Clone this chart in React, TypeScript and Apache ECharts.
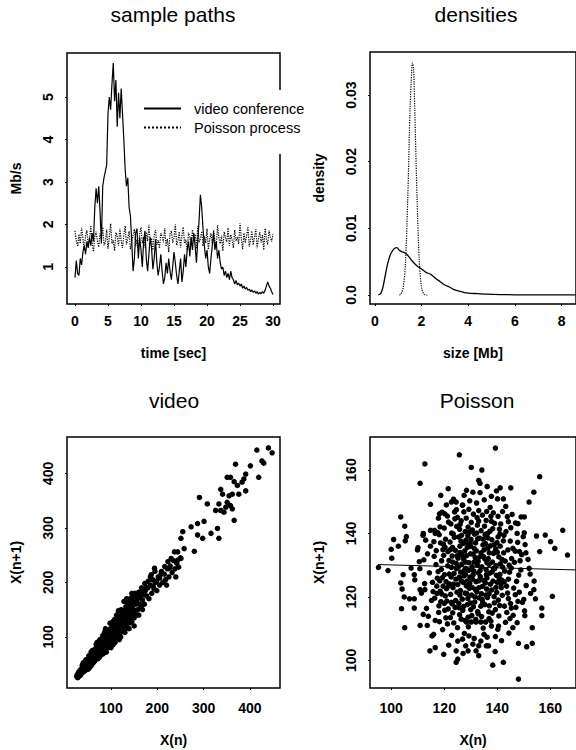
import React, { useEffect, useRef } from "react";
import * as echarts from "echarts";

// ---------- panel 1: sample paths (Mb/s sampled every 0.2 s, 0..30 s) ----------
const SAMPLE_STEP = 0.2;
const videoPath = [
  0.75, 1.15, 0.85, 0.8, 1.2, 1.05, 1.35, 1.5, 1.3, 1.6,
  1.45, 1.7, 1.5, 1.8, 1.6, 2.4, 2.85, 2.5, 2.9, 2.3,
  1.55, 2.9, 3.1, 3.25, 3.4, 4.6, 5.0, 4.7, 5.3, 5.8,
  4.9, 5.4, 4.3, 5.1, 4.5, 5.2, 4.6, 4.0, 3.3, 2.9,
  3.1, 2.4, 2.2, 1.6, 0.9, 1.2, 1.8, 1.9, 1.2, 1.7,
  1.4, 1.0, 1.6, 1.85, 1.2, 0.9, 1.3, 1.7, 1.45, 0.95,
  1.2, 1.65, 1.1, 0.8, 1.0, 1.3, 0.9, 0.6, 0.75, 1.1,
  0.85, 1.2, 0.9, 0.7, 1.0, 1.35, 1.1, 0.8, 0.6, 0.9,
  1.2, 0.65, 0.9, 1.3, 1.0, 1.4, 1.6, 1.25, 1.7, 1.4,
  1.8, 1.5, 1.1, 1.6, 2.1, 2.7, 2.4, 1.9, 1.5, 1.2,
  1.4, 1.0, 0.85, 1.2, 1.5, 1.8, 1.4, 1.6, 1.2, 1.4,
  1.1, 0.95, 1.0, 0.8, 0.9, 0.75, 0.85, 0.7, 0.9, 0.75,
  0.7, 0.6, 0.68, 0.58, 0.62, 0.55, 0.6, 0.5, 0.55, 0.48,
  0.52, 0.45, 0.48, 0.42, 0.46, 0.4, 0.44, 0.38, 0.42, 0.36,
  0.4, 0.37, 0.42, 0.38, 0.45, 0.55, 0.65, 0.55, 0.5, 0.42,
  0.35,
];
const poissonPath = [
  1.85, 1.62, 1.48, 1.77, 1.55, 1.92, 1.68, 1.41, 1.73, 1.86,
  1.52, 1.64, 1.98, 1.57, 1.36, 1.71, 1.83, 1.6, 1.47, 1.79,
  1.66, 1.94, 1.51, 1.58, 1.88, 1.43, 1.69, 2.02, 1.55, 1.63,
  1.38, 1.81, 1.72, 1.5, 1.9, 1.61, 1.45, 1.76, 1.97, 1.53,
  1.67, 1.84, 1.42, 1.59, 1.74, 1.89, 1.49, 1.65, 1.37, 1.78,
  1.93, 1.56, 1.7, 1.46, 1.82, 1.61, 1.99, 1.54, 1.68, 1.4,
  1.75, 1.87, 1.52, 1.63, 1.44, 1.8, 1.71, 1.58, 1.91, 1.48,
  1.66, 1.35, 1.78, 1.85, 1.57, 1.69, 2.0, 1.51, 1.62, 1.83,
  1.46, 1.73, 1.94, 1.55, 1.64, 1.39, 1.81, 1.7, 1.5, 1.88,
  1.6, 1.77, 1.43, 1.96, 1.58, 1.67, 1.84, 1.49, 1.72, 1.56,
  1.9, 1.41, 1.65, 1.79, 1.53, 1.86, 1.62, 1.47, 1.98, 1.68,
  1.55, 1.74, 1.38, 1.83, 1.69, 1.59, 1.92, 1.5, 1.76, 1.64,
  1.45, 1.87, 1.61, 1.71, 1.54, 2.03, 1.66, 1.42, 1.8, 1.57,
  1.73, 1.95, 1.48, 1.63, 1.85, 1.52, 1.7, 1.89, 1.44, 1.67,
  1.82, 1.58, 1.75, 1.4, 1.91, 1.65, 1.53, 1.86, 1.69, 1.6,
  1.78,
];
const timeTicks = [0, 5, 10, 15, 20, 25, 30];
const rateTicks = [1, 2, 3, 4, 5];

// ---------- panel 2: densities ----------
const videoDensity = [
  [0.15, 0], [0.25, 0.0002], [0.35, 0.0012], [0.45, 0.003], [0.55, 0.0047],
  [0.65, 0.0059], [0.75, 0.0066], [0.85, 0.007], [0.95, 0.0071], [1.05, 0.0067],
  [1.15, 0.0065], [1.3, 0.0063], [1.45, 0.0058], [1.6, 0.0051], [1.8, 0.0044],
  [2.0, 0.0039], [2.2, 0.0034], [2.4, 0.0031], [2.6, 0.0025], [2.8, 0.002],
  [3.0, 0.0015], [3.2, 0.0012], [3.4, 0.0008], [3.6, 0.0006], [3.8, 0.0004],
  [4.0, 0.00028], [4.4, 0.0002], [4.8, 0.00012], [5.4, 0.00006], [6.0, 0.00003],
  [7.0, 0.00002], [8.0, 0.00001], [8.7, 0.00001],
];
const poissonDensity = [
  [1.05, 0], [1.11, 0.0001], [1.21, 0.001], [1.31, 0.0047], [1.41, 0.0144],
  [1.51, 0.028], [1.56, 0.032], [1.61, 0.0348], [1.66, 0.034], [1.71, 0.028],
  [1.81, 0.0144], [1.91, 0.0047], [2.01, 0.001], [2.11, 0.0001], [2.25, 0],
];
const sizeTicks = [0, 2, 4, 6, 8];
const densityTicks = [0, 0.01, 0.02, 0.03];

// ---------- panel 3: video lag plot X(n), X(n+1) ----------
const videoLag = [
  [415, 443], [440, 447], [448, 438], [426, 423], [430, 419], [369, 417], [401, 414],
  [419, 393], [391, 399], [387, 390], [383, 384], [373, 378], [366, 385], [358, 393],
  [351, 393], [391, 368], [376, 362], [362, 362], [355, 359], [337, 371], [341, 362],
  [351, 347], [358, 341], [362, 335], [348, 338], [344, 329], [337, 332], [326, 332],
  [333, 344], [366, 314], [308, 344], [291, 356], [301, 312], [287, 308], [273, 302],
  [330, 299], [333, 281], [316, 290], [298, 281], [287, 287], [280, 257], [255, 293],
  [251, 281], [258, 262], [244, 256], [237, 256], [251, 244], [244, 241], [230, 244],
  [223, 238], [226, 226], [216, 229], [209, 220], [194, 226], [205, 208], [198, 202],
  [191, 193], [187, 214], [180, 202], [176, 190], [173, 184], [166, 181], [162, 175],
  [155, 168], [151, 178],
  [26, 27], [28, 25], [27, 30], [30, 28], [31, 33], [29, 31], [33, 30], [32, 36], [35, 33],
  [34, 29], [36, 38], [30, 35], [38, 34], [35, 40],
  [37, 42], [40, 38], [39, 45], [42, 40], [41, 48], [44, 43], [43, 37], [46, 50], [45, 45],
  [48, 42], [47, 52], [50, 47], [49, 55], [40, 52], [44, 54], [50, 40], [38, 48],
  [52, 50], [53, 58], [55, 52], [54, 62], [57, 55], [56, 48], [58, 64], [60, 57], [59, 68],
  [62, 60], [61, 52], [63, 70], [64, 63], [65, 56], [52, 65], [57, 72], [60, 75], [65, 72],
  [55, 45], [63, 54],
  [66, 68], [67, 78], [68, 62], [70, 72], [69, 82], [71, 66], [72, 80], [73, 70], [74, 88],
  [75, 74], [76, 64], [77, 84], [78, 76], [79, 92], [80, 70], [68, 86], [72, 60], [76, 95],
  [80, 85], [70, 90], [78, 68],
  [81, 80], [82, 95], [83, 74], [84, 88], [85, 100], [86, 82], [87, 94], [88, 76], [89, 105],
  [90, 86], [91, 98], [92, 80], [93, 110], [94, 92], [95, 84], [82, 102], [86, 108], [90, 72],
  [94, 102], [88, 115], [84, 70],
  [96, 96], [97, 108], [98, 88], [99, 115], [100, 100], [101, 92], [102, 118], [103, 104],
  [104, 85], [105, 112], [106, 96], [107, 122], [108, 106], [109, 90], [110, 115], [98, 125],
  [104, 128], [100, 80], [108, 132], [96, 110], [106, 88],
  [111, 108], [112, 125], [113, 98], [114, 118], [115, 130], [116, 105], [117, 122], [118, 138],
  [119, 112], [120, 128], [121, 100], [122, 135], [123, 118], [124, 145], [125, 110], [112, 140],
  [118, 95], [122, 150], [116, 148], [125, 128],
  [126, 135], [127, 120], [128, 148], [129, 112], [130, 140], [131, 128], [132, 155], [133, 118],
  [134, 145], [135, 132], [136, 160], [137, 125], [138, 150], [139, 115], [140, 140], [128, 165],
  [134, 170], [140, 128], [130, 108], [138, 162],
  [141, 152], [142, 135], [143, 165], [144, 145], [145, 128], [146, 160], [147, 140], [148, 175],
  [149, 150], [150, 135], [151, 165], [152, 180], [153, 148], [154, 160], [155, 140], [145, 180],
  [150, 120], [144, 172],
  [157, 170], [158, 150], [160, 182], [162, 160], [163, 172], [165, 155], [166, 190], [168, 168],
  [170, 178], [172, 160], [174, 185], [160, 140], [168, 150], [173, 198],
  [177, 175], [180, 190], [182, 170], [185, 195], [188, 180], [190, 205], [193, 188], [196, 200],
  [199, 185], [202, 210], [205, 195], [208, 215], [185, 210], [195, 220],
  [212, 200], [215, 215], [218, 205], [222, 225], [225, 210], [228, 230], [232, 218], [235, 240],
  [238, 225], [242, 235], [246, 228], [250, 245], [220, 195], [240, 210],
  [33, 38], [36, 34], [39, 41], [42, 46], [45, 40], [48, 50], [51, 45], [54, 56], [57, 50],
  [60, 62], [63, 58], [66, 64], [69, 74], [72, 68], [75, 80], [78, 72], [81, 86], [84, 78],
  [87, 90], [90, 95], [93, 88], [96, 102], [99, 94], [102, 108], [105, 100], [108, 114],
  [111, 104], [114, 124], [117, 112], [120, 118], [123, 130], [126, 124], [129, 135], [132, 130],
  [135, 142], [138, 138], [141, 145], [144, 155], [147, 150], [150, 160], [153, 170], [156, 162],
  [159, 175], [46, 58], [52, 42], [58, 48], [64, 76], [70, 60], [76, 86], [82, 68], [88, 100],
  [94, 80], [100, 112], [106, 92], [112, 118], [118, 106], [124, 136], [130, 118], [136, 148],
  [142, 126], [29, 26], [31, 29], [34, 33], [37, 36], [40, 43], [43, 48], [74, 62], [86, 95],
  [98, 104], [110, 96], [122, 112], [134, 124],
];
const videoTicks = [100, 200, 300, 400];

// ---------- panel 4: Poisson lag plot ----------
const poissonLag = [
  [125.7, 164.8], [112.7, 161.9], [110.9, 155.8], [121.5, 154.1], [118.7, 152.0], [114.8, 149.2],
  [127.5, 152.0], [103.6, 145.2], [105.1, 142.3], [100.9, 138.1], [102.7, 136.0], [100.0, 135.0],
  [100.2, 132.2], [95.2, 129.3], [98.8, 128.3], [105.7, 139.0], [105.3, 137.7], [104.5, 127.0],
  [103.6, 124.4], [104.1, 122.5], [104.9, 120.0], [106.9, 119.4], [108.7, 119.4], [103.9, 116.3],
  [108.7, 116.5], [105.1, 110.3], [110.9, 111.0], [113.6, 111.0], [112.1, 114.5], [112.7, 122.3],
  [110.9, 122.3], [108.7, 127.0], [107.5, 129.1], [110.6, 131.1], [109.9, 134.8], [112.1, 140.0],
  [113.0, 137.9], [114.8, 141.0], [116.6, 140.0], [118.2, 146.2], [120.2, 146.2], [122.7, 149.9],
  [124.5, 149.9], [126.9, 148.9], [115.4, 107.7], [116.0, 108.2], [116.6, 104.0], [114.6, 103.0],
  [125.1, 106.1], [126.9, 106.7], [128.1, 104.6], [124.5, 103.0], [125.1, 100.4], [124.5, 99.4],
  [139.3, 166.9], [130.2, 160.8], [134.2, 160.0], [133.0, 156.7], [133.5, 155.8], [136.2, 154.8],
  [156.0, 157.9], [153.8, 153.0], [152.0, 149.9], [141.1, 154.4], [145.1, 154.4], [142.3, 150.9],
  [137.8, 151.7], [130.8, 153.0], [164.7, 141.0], [166.5, 133.2], [158.1, 139.5], [154.8, 139.2],
  [160.1, 137.4], [161.7, 135.3], [156.0, 134.3], [149.0, 145.2], [150.2, 145.2], [147.8, 143.1],
  [150.2, 140.2], [147.5, 140.0], [150.8, 133.9], [148.4, 134.3], [145.9, 135.3], [152.0, 129.0],
  [160.8, 120.2], [153.8, 122.3], [154.4, 119.4], [156.8, 116.5], [156.8, 114.1], [150.0, 119.2],
  [150.4, 114.1], [147.8, 118.6], [153.2, 110.3], [148.0, 105.4], [151.1, 104.3], [153.2, 105.4],
  [145.9, 110.3], [145.3, 116.5], [142.3, 99.4], [138.3, 98.5], [148.0, 94.1], [140.5, 110.8],
  [139.3, 107.5], [137.8, 110.8], [135.6, 112.1], [133.8, 112.1], [132.0, 112.1], [130.2, 112.1],
  [128.4, 112.1], [135.0, 108.2], [133.8, 106.1], [133.0, 104.6], [132.0, 103.0], [135.9, 104.6],
  [129.3, 107.7], [130.8, 105.1], [129.0, 103.0],
  [120.5, 138.2], [123.1, 135.6], [125.8, 141.3], [128.2, 137.9], [131.4, 139.8], [134.6, 136.4],
  [137.2, 140.7], [139.9, 137.1], [142.5, 139.4], [126.7, 133.2], [129.3, 130.8], [132.1, 134.5],
  [135.4, 131.9], [138.6, 133.7], [141.2, 130.4], [144.0, 134.8], [121.8, 131.5], [118.9, 128.7],
  [122.6, 126.3], [125.3, 129.4], [128.0, 127.1], [130.7, 125.6], [133.5, 128.3], [136.1, 126.0],
  [139.0, 128.9], [141.7, 125.3], [144.6, 127.8], [147.3, 124.9], [119.6, 123.4], [122.4, 120.8],
  [125.1, 123.9], [127.9, 121.2], [130.5, 123.0], [133.2, 119.7], [136.0, 122.5], [138.8, 120.1],
  [141.5, 122.9], [144.2, 119.5], [117.4, 125.9], [115.8, 121.7], [118.7, 118.5], [121.5, 116.2],
  [124.3, 118.9], [127.0, 115.8], [129.8, 118.1], [132.6, 115.4], [135.3, 117.6], [138.1, 114.9],
  [140.9, 117.3], [143.6, 115.1],
  [124.0, 144.6], [127.4, 146.8], [130.2, 143.5], [133.0, 147.2], [135.8, 144.1], [138.5, 146.5],
  [141.3, 143.0], [121.2, 145.5], [118.4, 142.1], [116.1, 137.4], [119.5, 134.9], [113.7, 133.6],
  [116.9, 130.2], [114.4, 127.6], [112.6, 124.2], [115.2, 118.9], [117.9, 115.1], [120.6, 113.4],
  [123.6, 111.8], [126.4, 113.0], [129.1, 110.6], [131.9, 112.9], [134.7, 110.2], [137.6, 112.4],
  [140.2, 109.8], [143.1, 112.0], [146.0, 114.2], [146.8, 120.7], [149.5, 118.3], [148.1, 126.9],
  [150.9, 123.6], [146.5, 130.9], [149.2, 133.3], [147.7, 137.2], [145.1, 141.8], [143.8, 145.3],
  [148.9, 128.5], [152.4, 127.2], [151.6, 131.8],
  [127.3, 131.9], [129.9, 133.6], [132.8, 131.2], [134.2, 129.5], [136.9, 130.3], [131.1, 128.2],
  [128.6, 125.0], [126.2, 127.8], [124.5, 130.6], [123.0, 132.9], [125.9, 136.0], [128.9, 139.3],
  [131.8, 137.0], [133.9, 140.9], [136.5, 138.6], [139.4, 135.1], [140.6, 132.6], [142.8, 128.1],
  [143.5, 123.4], [140.0, 124.6], [137.4, 124.0], [134.9, 125.2], [132.3, 121.6], [129.4, 122.7],
  [126.8, 119.3], [124.8, 121.5], [122.0, 124.1], [120.1, 127.0], [119.0, 131.4], [121.4, 134.3],
  [123.8, 138.8], [126.0, 142.9], [129.0, 142.0], [132.5, 142.6], [135.2, 142.3], [137.8, 143.8],
  [140.8, 141.4], [142.3, 137.7], [144.9, 137.6], [137.0, 133.9], [135.0, 134.8], [130.0, 135.9],
  [127.7, 134.5], [128.1, 129.0], [130.9, 127.0], [133.6, 126.4], [135.8, 128.6], [138.2, 131.0],
  [139.7, 126.8], [141.9, 120.5], [138.9, 118.1], [136.3, 119.8], [133.8, 117.1], [131.0, 116.9],
  [128.7, 117.6], [125.6, 116.6], [123.2, 115.0], [121.0, 118.7], [119.1, 120.9], [117.2, 123.4],
  [114.8, 136.0], [112.0, 139.4], [117.8, 144.8], [120.8, 149.0], [123.5, 150.8], [126.9, 148.9],
  [129.6, 150.3], [132.2, 149.6], [135.1, 150.6], [137.3, 148.2], [140.1, 150.9], [143.2, 148.5],
  [145.6, 146.0], [139.7, 153.4], [133.5, 152.9], [128.4, 153.6], [124.6, 147.5], [116.3, 141.0],
  [110.8, 128.9], [108.9, 125.4], [111.4, 121.2], [113.3, 116.4], [116.6, 112.6], [119.4, 109.7],
  [122.8, 107.9], [127.6, 108.5], [131.3, 106.9], [136.2, 107.3], [141.6, 106.2], [144.4, 108.6],
  [147.5, 111.9], [150.3, 115.6], [152.6, 121.1], [153.9, 125.0], [150.5, 136.5], [146.9, 143.3],
  [142.0, 146.9], [118.2, 112.2], [114.0, 113.9], [112.3, 131.7], [110.1, 135.5], [136.7, 104.6],
  [139.2, 102.8], [133.0, 101.5], [127.1, 102.2], [121.7, 104.8], [119.8, 101.9],
  [121.3, 129.8], [123.7, 127.4], [126.4, 125.1], [129.6, 124.3], [132.0, 124.8], [134.4, 123.3],
  [137.9, 122.2], [140.4, 119.0], [142.7, 117.1], [139.3, 116.0], [136.8, 115.3], [134.1, 113.8],
  [130.4, 114.1], [127.8, 112.6], [125.0, 110.3], [122.3, 113.5], [120.2, 115.8], [118.0, 117.2],
  [116.4, 119.6], [118.3, 125.1], [120.9, 122.6], [123.3, 122.9], [126.1, 122.0], [128.3, 123.5],
  [131.6, 120.0], [134.0, 121.0], [137.2, 127.5], [139.6, 129.9], [141.0, 127.1], [143.0, 131.3],
  [145.4, 132.1], [144.2, 125.6], [146.2, 122.8], [148.3, 121.5], [145.0, 117.9], [138.0, 138.0],
  [135.6, 136.8], [133.3, 138.5], [130.6, 141.1], [127.9, 140.6], [125.4, 138.9], [122.8, 140.1],
  [120.0, 141.7], [118.1, 139.6], [117.0, 134.6], [119.7, 136.6], [122.2, 137.3], [124.2, 134.7],
  [126.6, 130.3], [129.2, 128.4], [132.5, 130.0], [134.8, 132.7], [136.4, 135.4], [138.8, 136.4],
  [141.1, 136.0], [142.4, 133.9], [140.3, 138.9], [137.6, 145.4], [134.4, 145.8], [131.0, 146.1],
  [128.3, 144.8], [125.0, 145.1], [122.5, 143.0], [119.2, 146.7], [136.3, 140.0], [133.0, 143.9],
  [130.1, 138.1], [127.2, 136.9], [124.9, 133.0], [122.7, 129.3], [120.7, 124.8], [124.4, 125.6],
  [127.5, 126.6], [130.3, 120.6], [133.1, 122.9], [135.7, 120.6], [138.4, 125.0], [141.4, 123.9],
  [143.9, 121.2], [131.7, 132.4], [129.0, 136.5],
  [121.9, 127.2], [124.6, 128.9], [127.1, 124.6], [129.7, 126.2], [132.9, 127.6], [135.5, 124.4],
  [138.1, 127.9], [140.7, 126.0], [119.8, 133.1], [122.3, 134.9], [125.2, 132.2], [128.4, 133.0],
  [131.2, 131.0], [133.9, 133.9], [136.6, 132.1], [139.1, 134.2], [141.8, 131.8], [123.4, 139.9],
  [126.3, 137.6], [129.5, 140.4], [132.6, 138.3], [135.4, 139.7], [138.3, 141.5], [141.0, 139.9],
  [120.4, 120.3], [123.0, 117.8], [125.9, 120.6], [128.9, 119.5], [131.5, 118.4], [134.3, 119.2],
  [137.0, 117.2], [139.8, 121.4], [142.6, 124.8], [145.3, 129.1], [143.3, 140.6], [139.0, 143.2],
  [136.0, 146.9], [132.4, 145.0], [129.3, 147.6], [126.4, 144.0], [123.9, 146.8], [121.6, 143.6],
  [118.6, 137.0], [116.2, 132.8], [117.7, 128.0], [115.6, 124.6], [118.5, 121.8], [121.2, 111.5],
  [125.8, 114.4], [129.0, 113.6], [132.8, 114.7], [136.9, 113.2], [140.6, 114.0], [144.8, 113.2],
  [147.0, 116.7], [148.6, 131.4], [146.8, 134.4], [149.8, 139.0], [144.2, 143.7], [140.3, 145.4],
  [130.9, 133.5], [128.0, 131.0], [125.7, 126.2], [123.5, 124.0], [127.6, 128.4], [130.5, 129.5],
  [133.0, 125.1], [135.9, 127.0], [138.6, 129.0], [136.1, 130.8], [133.4, 132.6], [131.4, 135.2],
  [128.7, 135.6], [126.5, 139.4], [129.8, 137.0], [132.2, 140.1], [134.7, 138.2], [137.4, 136.1],
  [140.0, 134.1], [142.0, 129.4], [144.5, 130.0], [139.5, 123.0], [136.9, 121.0], [134.5, 118.2],
  [131.8, 122.3], [128.5, 121.0], [125.5, 118.0], [122.7, 118.3], [120.0, 118.0], [117.3, 121.1],
  [119.3, 126.1], [121.7, 123.5], [124.1, 116.7], [127.3, 117.0], [130.0, 116.0], [126.0, 134.0],
  [123.2, 131.0], [120.3, 135.6], [117.5, 140.3], [124.7, 142.2],
];
const poissonFit = [[95, 130.2], [170, 128.5]];
const poissonTicks = [100, 120, 140, 160];

const FONT = "'Liberation Sans', Arial, Helvetica, sans-serif";
const INK = "#000";

function xAxis(gridIndex: number, min: number, max: number, ticks: number[], name: string, labelMargin: number, nameGap: number) {
  return {
    type: "value", gridIndex, min, max, name, nameLocation: "middle", nameGap,
    nameTextStyle: { fontFamily: FONT, fontSize: 14, fontWeight: "bold", color: INK },
    axisLine: { show: false, onZero: false },
    axisTick: { show: true, length: 2, customValues: ticks, lineStyle: { color: INK } },
    axisLabel: { customValues: ticks, margin: labelMargin, fontFamily: FONT, fontSize: 14, fontWeight: "bold", color: INK },
    splitLine: { show: false },
  };
}
function yAxis(gridIndex: number, min: number, max: number, ticks: number[], name: string, fmt?: (v: number) => string) {
  return {
    type: "value", gridIndex, min, max, name, nameLocation: "middle", nameGap: 44,
    nameTextStyle: { fontFamily: FONT, fontSize: 14, fontWeight: "bold", color: INK },
    axisLine: { show: false, onZero: false },
    axisTick: { show: true, length: 2, customValues: ticks, lineStyle: { color: INK } },
    axisLabel: { customValues: ticks, rotate: 90, margin: 12, fontFamily: FONT, fontSize: 14, fontWeight: "bold", color: INK, formatter: fmt },
    splitLine: { show: false },
  };
}
function title(text: string, left: number, top: number) {
  return { text, left, top, textAlign: "center", padding: 0, textStyle: { fontFamily: FONT, fontSize: 21, fontWeight: "normal", color: INK } };
}

export default function App() {
  const ref = useRef<HTMLDivElement>(null);
  useEffect(() => {
    document.body.style.margin = "0";
    if (!ref.current) return;
    const chart = echarts.init(ref.current, undefined, { renderer: "svg" });
    const gridStyle = { show: true, borderColor: INK, borderWidth: 1.5, backgroundColor: "transparent" };
    chart.setOption({
      animation: false,
      backgroundColor: "#fff",
      title: [
        title("sample paths", 173, 4),
        title("densities", 476, 4),
        title("video", 174, 390),
        title("Poisson", 477, 390),
      ],
      legend: {
        data: ["video conference", "Poisson process"],
        orient: "vertical", left: 138, top: 90,
        itemWidth: 37, itemHeight: 14, itemGap: 4,
        padding: [11, 4, 19, 5],
        backgroundColor: "#fff",
        itemStyle: { opacity: 0 },
        textStyle: { fontFamily: FONT, fontSize: 14.5, color: INK, padding: [0, 0, 0, 8] },
      },
      grid: [
        { left: 67, top: 53, width: 213, height: 251, ...gridStyle },
        { left: 370, top: 52, width: 213, height: 252, ...gridStyle },
        { left: 67, top: 437, width: 213, height: 251, ...gridStyle },
        { left: 370, top: 437, width: 213, height: 251, ...gridStyle },
      ],
      xAxis: [
        xAxis(0, -1.21, 31.06, timeTicks, "time [sec]", 10, 42),
        xAxis(1, -0.207, 8.62, sizeTicks, "size [Mb]", 10, 42),
        xAxis(2, 5, 465, videoTicks, "X(n)", 13, 45),
        xAxis(3, 92, 169.7, poissonTicks, "X(n)", 13, 45),
      ],
      yAxis: [
        yAxis(0, 0.129, 6.035, rateTicks, "Mb/s"),
        yAxis(1, -0.00135, 0.03645, densityTicks, "density", (v: number) => (v === 0 ? "0.0" : String(v))),
        yAxis(2, 6, 467, videoTicks, "X(n+1)"),
        yAxis(3, 91.3, 170.4, poissonTicks, "X(n+1)"),
      ],
      series: [
        {
          name: "video conference", type: "line", xAxisIndex: 0, yAxisIndex: 0,
          data: videoPath.map((v, i) => [i * SAMPLE_STEP, v]),
          showSymbol: false, symbol: "none", lineStyle: { color: INK, width: 1.2, type: "solid" }, itemStyle: { color: INK },
        },
        {
          name: "Poisson process", type: "line", xAxisIndex: 0, yAxisIndex: 0,
          data: poissonPath.map((v, i) => [i * SAMPLE_STEP, v]),
          showSymbol: false, symbol: "none", lineStyle: { color: INK, width: 1.2, type: "dotted" }, itemStyle: { color: INK },
        },
        {
          name: "video density", type: "line", xAxisIndex: 1, yAxisIndex: 1, data: videoDensity, smooth: 0.3,
          showSymbol: false, symbol: "none", lineStyle: { color: INK, width: 1.3 },
        },
        {
          name: "Poisson density", type: "line", xAxisIndex: 1, yAxisIndex: 1, data: poissonDensity, smooth: 0.3,
          showSymbol: false, symbol: "none", lineStyle: { color: INK, width: 1.2, type: "dotted" },
        },
        {
          name: "video lag", type: "scatter", xAxisIndex: 2, yAxisIndex: 2, data: videoLag,
          symbol: "circle", symbolSize: 5.5, itemStyle: { color: INK, opacity: 1 },
        },
        {
          name: "Poisson lag", type: "scatter", xAxisIndex: 3, yAxisIndex: 3, data: poissonLag,
          symbol: "circle", symbolSize: 5.5, itemStyle: { color: INK, opacity: 1 },
        },
        {
          name: "Poisson fit", type: "line", xAxisIndex: 3, yAxisIndex: 3, data: poissonFit,
          showSymbol: false, symbol: "none", lineStyle: { color: INK, width: 1 },
        },
      ],
    });
    return () => chart.dispose();
  }, []);
  return <div ref={ref} style={{ width: 576, height: 750 }} />;
}
